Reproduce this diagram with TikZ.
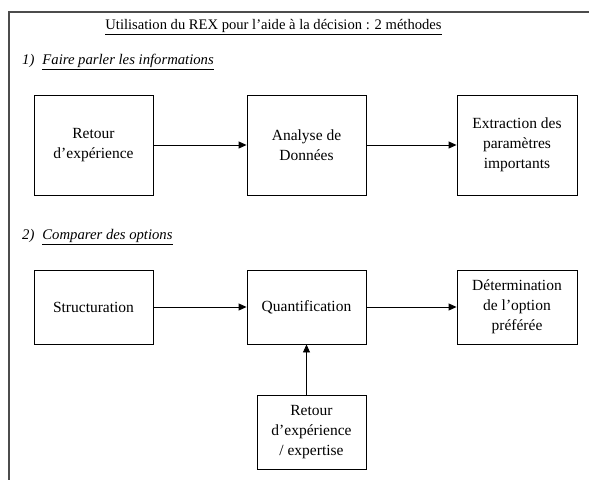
\documentclass[tikz,border=0pt]{standalone}
\usepackage{fontspec}
\setmainfont{Liberation Serif}
\usetikzlibrary{arrows.meta}
\begin{document}
\begin{tikzpicture}[x=1pt,y=-1pt,
  box/.style={draw=black,line width=0.9pt,inner sep=0pt,align=center,
    minimum width=119pt,minimum height=100pt,font=\fontsize{15.5}{20}\selectfont},
  lowbox/.style={box,minimum height=74pt},
  arr/.style={draw=black,line width=0.9pt,-{Triangle[length=8pt,width=7pt]}},
  frame/.style={draw=black!70,line width=1.3pt},
  lbl/.style={inner sep=0pt,font=\fontsize{14.7}{18}\selectfont}]
\useasboundingbox (0,0) rectangle (589,480);
\coordinate (ftr) at (589,12);
\coordinate (ftl) at (9,12);
\coordinate (fbl) at (9,480);
\draw[frame] (ftr) -- (ftl) -- (fbl);
\node[lbl,font=\fontsize{14.6}{18}\selectfont] (title) at (273.5,27) {\underline{Utilisation du REX pour l’aide à la décision : 2 méthodes}};
\node[lbl,anchor=west] (s1) at (22,62) {\textit{1)}\hspace{8pt}\underline{\textit{Faire parler les informations}}};
\node[lbl,anchor=west] (s2) at (22,237) {\textit{2)}\hspace{8pt}\underline{\textit{Comparer des options}}};
\node[box] (a1) at (93.5,145) {Retour\\d’expérience};
\node[box] (a2) at (306.5,145) {Analyse de\\Données};
\node[box,minimum width=120pt] (a3) at (517,145) {Extraction des\\paramètres\\importants};
\node[lowbox] (b1) at (93.5,307) {Structuration};
\node[lowbox] (b2) at (306.5,307) {Quantification};
\node[lowbox,minimum width=120pt] (b3) at (517,307) {Détermination\\de l’option\\préférée};
\node[lowbox,minimum width=109pt] (c) at (311.5,432) {Retour\\d’expérience\\/ expertise};
\draw[arr] (a1) -- (a2);
\draw[arr] (a2) -- (a3);
\draw[arr] (b1) -- (b2);
\draw[arr] (b2) -- (b3);
\draw[arr] (b2.south |- c.north) -- (b2.south);
\end{tikzpicture}
\end{document}
